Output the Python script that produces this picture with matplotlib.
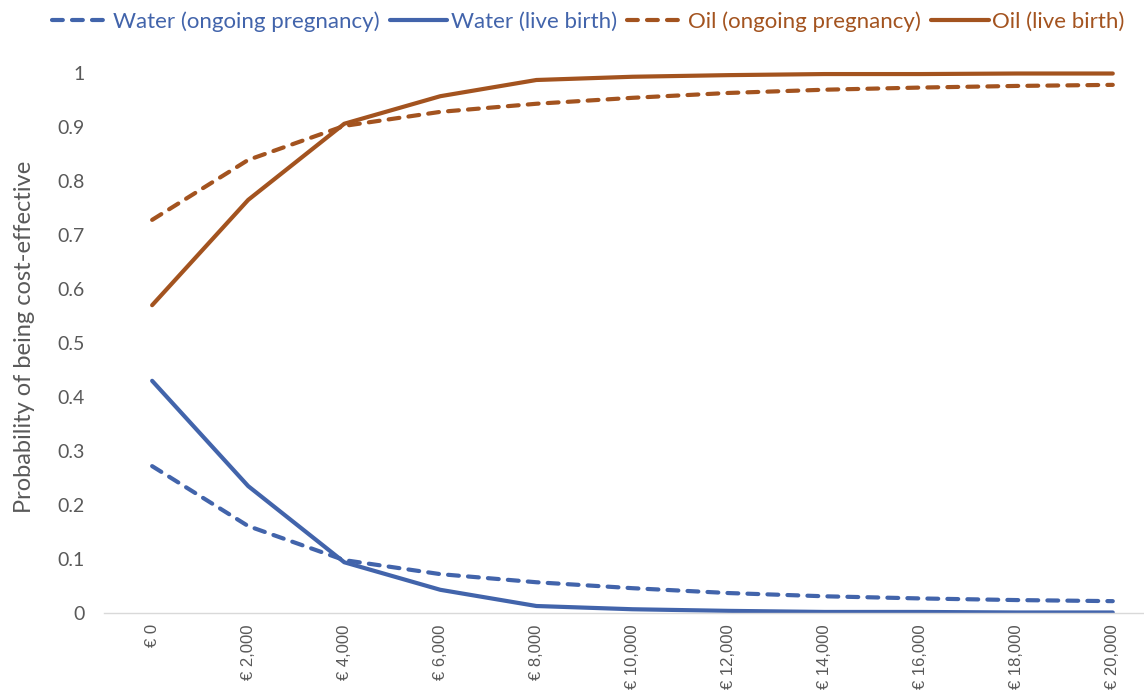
import numpy as np
import matplotlib
matplotlib.use("Agg")
import matplotlib.pyplot as plt

# willingness to pay (euro)
wtp = [0, 2000, 4000, 6000, 8000, 10000, 12000, 14000, 16000, 18000, 20000]

water_ongoing = [0.272, 0.161, 0.098, 0.072, 0.057, 0.046, 0.037, 0.031, 0.027, 0.024, 0.022]
water_live = [0.430, 0.235, 0.094, 0.043, 0.013, 0.007, 0.004, 0.002, 0.002, 0.001, 0.001]
oil_ongoing = [0.728, 0.839, 0.902, 0.928, 0.943, 0.954, 0.963, 0.969, 0.973, 0.976, 0.978]
oil_live = [0.570, 0.765, 0.906, 0.957, 0.987, 0.993, 0.996, 0.998, 0.998, 0.999, 0.999]

xticks = list(range(0, 20001, 2000))
xticklabels = ["€ {:,}".format(v) for v in xticks]
yticks = [0, 0.1, 0.2, 0.3, 0.4, 0.5, 0.6, 0.7, 0.8, 0.9, 1]
yticklabels = ["0", "0.1", "0.2", "0.3", "0.4", "0.5", "0.6", "0.7", "0.8", "0.9", "1"]

blue = "#4264AB"
brown = "#A3531F"
grey = "#595959"

plt.rcParams["font.family"] = ["Lato", "DejaVu Sans"]

fig = plt.figure(figsize=(11.44, 6.93), dpi=100)
ax = fig.add_axes([0.091, 0.1154, 0.909, 0.798])

dash = (2.6, 2.2)
series = [
    (water_ongoing, blue, True, "Water (ongoing pregnancy)"),
    (water_live, blue, False, "Water (live birth)"),
    (oil_ongoing, brown, True, "Oil (ongoing pregnancy)"),
    (oil_live, brown, False, "Oil (live birth)"),
]
for vals, col, dashed, lab in series:
    line, = ax.plot(wtp, vals, color=col, lw=3, label=lab,
                    solid_capstyle="round", dash_capstyle="round")
    if dashed:
        line.set_dashes(dash)

ax.set_xlim(-1000, 20650)
ax.set_ylim(0, 1.024)
ax.set_xticks(xticks)
ax.set_xticklabels(xticklabels, rotation=90, fontsize=12, color=grey,
                   family=["Liberation Sans", "DejaVu Sans"])
ax.set_yticks(yticks)
ax.set_yticklabels(yticklabels, fontsize=14, color=grey)
ax.tick_params(axis="both", length=0)
ax.tick_params(axis="x", pad=8)
ax.tick_params(axis="y", pad=14)

for s in ["top", "right", "left"]:
    ax.spines[s].set_visible(False)
ax.spines["bottom"].set_color("#D9D9D9")
ax.spines["bottom"].set_linewidth(1)

ax.set_ylabel("Probability of being cost-effective", fontsize=17, color=grey, labelpad=16)

leg = fig.legend(loc="upper center", bbox_to_anchor=(0.514, 1.012), ncol=4, frameon=False,
                 fontsize=16, handlelength=2.6, handletextpad=0.15, columnspacing=0.45)
for txt, (_, col, _, _) in zip(leg.get_texts(), series):
    txt.set_color(col)

fig.savefig("out.png", dpi=100)
